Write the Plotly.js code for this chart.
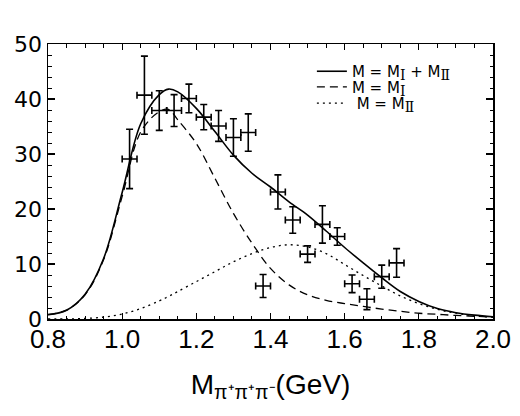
<!DOCTYPE html>
<html>
<head>
<meta charset="utf-8">
<script src="https://cdn.plot.ly/plotly-3.0.1.min.js"></script>
<style>html,body{margin:0;padding:0;background:#fff}#chart{width:520px;height:416px}</style>
</head>
<body>
<div id="chart"></div>
<script>
// Data points (bin centres, counts, errors)
var dataX  = [1.02,1.06,1.10,1.14,1.18,1.22,1.26,1.30,1.34,1.38,1.42,1.46,1.50,1.54,1.58,1.62,1.66,1.70,1.74];
var dataY  = [29.1,40.7,37.9,37.9,40.1,36.7,35.1,33.0,33.9,6.0,23.1,18.0,11.8,17.2,15.0,6.4,3.6,7.7,10.2];
var dataEY = [5.4,7.1,3.6,2.9,2.6,2.3,2.8,3.4,3.4,2.1,3.1,2.4,1.5,3.4,1.6,1.6,1.9,2.1,2.6];
var dataEX = [0.02,0.02,0.02,0.02,0.02,0.02,0.02,0.02,0.02,0.02,0.02,0.02,0.02,0.02,0.02,0.02,0.02,0.02,0.02];

// Curves
var curveX     = [0.80,0.85,0.90,0.95,1.00,1.05,1.10,1.125,1.15,1.20,1.25,1.30,1.35,1.40,1.45,1.50,1.55,1.60,1.65,1.70,1.75,1.80,1.85,1.90,1.95,2.00];
var totalY     = [0.8,1.6,4.5,11.0,23.0,35.5,40.8,41.8,41.3,38.3,34.1,29.8,26.5,24.0,21.3,18.9,16.0,13.0,10.2,7.5,5.0,3.2,1.9,1.15,0.7,0.4];
var partIY     = [0.8,1.6,4.4,10.8,22.3,34.0,37.7,38.1,36.2,31.9,25.6,19.2,13.8,9.2,6.2,4.4,3.4,2.8,2.3,1.8,1.4,1.05,0.85,0.65,0.5,0.36];
var partIIY    = [0.0,0.02,0.1,0.35,0.9,1.9,3.3,4.1,5.0,6.8,8.6,10.4,11.9,13.0,13.5,13.1,11.9,9.9,7.9,6.0,4.2,2.8,1.75,1.05,0.6,0.3];

var subI  = '<sub><span style="font-family:DejaVu Serif, serif;font-size:14px">Ⅰ</span></sub>';
var subII = '<sub><span style="font-family:DejaVu Serif, serif;font-size:14px">Ⅱ</span></sub>';
var names = ['M = M' + subI + ' + M' + subII, 'M = M' + subI, ' M = M' + subII];
var xTicks = [0.8,1.0,1.2,1.4,1.6,1.8,2.0];
var xTickText = ['0.8','1.0','1.2','1.4','1.6','1.8','2.0'];
var yTicks = [0,10,20,30,40,50];

var traces = [
  {x: curveX, y: totalY, mode: 'lines', name: names[0], legend: 'legend', line: {color: '#000', width: 1.6, shape: 'spline'}},
  {x: curveX, y: partIY, mode: 'lines', name: names[1], legend: 'legend2', line: {color: '#000', width: 1.3, dash: '8px,5px', shape: 'spline'}},
  {x: curveX, y: partIIY, mode: 'lines', name: names[2], legend: 'legend3', line: {color: '#000', width: 1.3, dash: '2px,4px', shape: 'spline'}},
  {x: dataX, y: dataY, mode: 'markers', showlegend: false,
   marker: {size: 2, color: 'rgba(0,0,0,0)'},
   error_y: {type: 'data', array: dataEY, visible: true, color: '#000', thickness: 1.6, width: 3.5},
   error_x: {type: 'data', array: dataEX, visible: true, color: '#000', thickness: 1.6, width: 3.5}}
];

var font = 'Liberation Sans, Arial, sans-serif';
var legFont = 'DejaVu Sans, Verdana, sans-serif';
function leg(y) {
  return {x: 0.593, y: y, xanchor: 'left', yanchor: 'middle', bgcolor: 'rgba(0,0,0,0)',
          font: {family: legFont, size: 15, color: '#000'}};
}
var layout = {
  width: 520, height: 416,
  margin: {l: 48, r: 27, t: 44, b: 97},
  paper_bgcolor: '#fff', plot_bgcolor: '#fff',
  font: {family: font, color: '#000'},
  showlegend: true,
  legend: leg(0.900),
  legend2: leg(0.843),
  legend3: leg(0.784),
  xaxis: {
    range: [0.8, 2.0], showgrid: false, zeroline: false,
    showline: true, linecolor: '#000', linewidth: 1.5, mirror: 'ticks',
    ticks: 'inside', ticklen: 6, tickwidth: 1.2, tickcolor: '#000',
    tickvals: xTicks, ticktext: xTickText, ticklabelstandoff: -4,
    tickfont: {family: font, size: 26, color: '#000'},
    minor: {dtick: 0.05, ticks: 'inside', ticklen: 3.5, tickwidth: 1, tickcolor: '#000'},
    title: {text: 'M<sub>π⁺π⁺π⁻</sub>(GeV)', font: {family: font, size: 28, color: '#000'}, standoff: 21}
  },
  yaxis: {
    range: [0, 50], showgrid: false, zeroline: false,
    showline: true, linecolor: '#000', linewidth: 1.5, mirror: 'ticks',
    ticks: 'inside', ticklen: 7, tickwidth: 1.2, tickcolor: '#000',
    tickvals: yTicks,
    tickfont: {family: 'DejaVu Sans, sans-serif', size: 22, color: '#000'},
    minor: {dtick: 2, ticks: 'inside', ticklen: 3.5, tickwidth: 1, tickcolor: '#000'}
  }
};

Plotly.newPlot('chart', traces, layout, {displayModeBar: false, staticPlot: true});
</script>
</body>
</html>
